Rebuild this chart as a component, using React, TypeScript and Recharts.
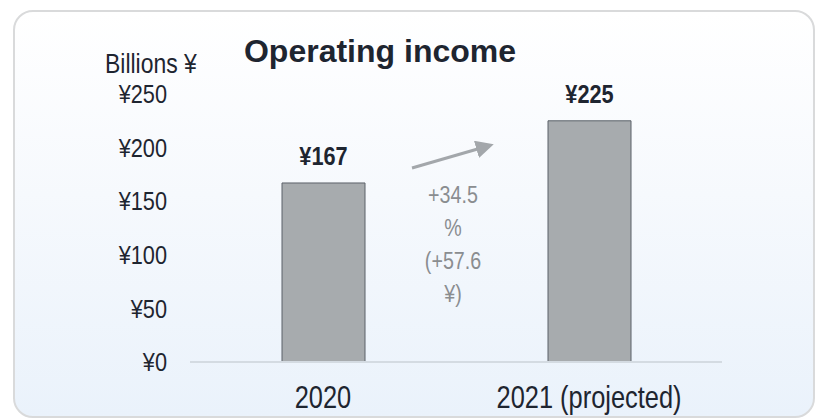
import { BarChart, Bar, XAxis, YAxis, LabelList } from 'recharts';

const years = ['2020', '2021 (projected)'];
const income = [167, 225];
const yTicks = [0, 50, 100, 150, 200, 250];
const growthLines = ['+34.5', '%', '(+57.6', '¥)'];

const data = years.map((year, i) => ({ year, income: income[i] }));

const sans = '"Liberation Sans", Arial, sans-serif';
const squeeze = 0.82; // narrow font is not installed, so squash Liberation Sans

// text drawn with a horizontal squeeze around its anchor point
const Narrow = ({ x, y, anchor = 'middle', size, weight = 'normal', fill = '#1e2530', children }) => (
    <text
        transform={`translate(${x},${y}) scale(${squeeze},1)`}
        textAnchor={anchor}
        dominantBaseline="central"
        fontFamily={sans}
        fontSize={size}
        fontWeight={weight}
        fill={fill}
    >{children}</text>
);

const YTick = ({ x, y, payload }) => (
    <Narrow x={x} y={y} anchor="end" size={26.5}>{`¥${payload.value}`}</Narrow>
);

const XTick = ({ x, y, payload }) => (
    <Narrow x={x} y={y + 35} size={31}>{payload.value}</Narrow>
);

const ValueLabel = ({ x, y, width, value }) => (
    <Narrow x={x + width / 2} y={y - 27} size={26.5} weight="bold">{`¥${value}`}</Narrow>
);

const App = () => {
    return (
        <div style={{ position: 'absolute', left: 0, top: 0, width: 823, height: 420, overflow: 'hidden', background: '#fff' }}>
            <div style={{
                position: 'absolute', left: 13, top: 10, width: 798, height: 404,
                border: '2px solid #d9dadb', borderRadius: 20,
                background: 'linear-gradient(#ffffff 0%, #f6f9fd 45%, #eaf2fb 100%)',
            }} />
            <div style={{ position: 'absolute', left: 0, top: 0 }}>
                <BarChart width={823} height={420} data={data} margin={{ top: 94, right: 101, bottom: 0, left: 0 }}>
                    <XAxis
                        dataKey="year"
                        height={58}
                        axisLine={{ stroke: '#d4dbe2', strokeWidth: 2 }}
                        tickLine={false}
                        tickSize={0}
                        tickMargin={0}
                        tick={<XTick />}
                    />
                    <YAxis
                        width={190}
                        domain={[0, 250]}
                        ticks={yTicks}
                        axisLine={false}
                        tickLine={false}
                        tickSize={0}
                        tickMargin={23}
                        tick={<YTick />}
                    />
                    <Bar dataKey="income" barSize={83} fill="#a7abae" stroke="#5b6168" strokeWidth={1} isAnimationActive={false}>
                        <LabelList dataKey="income" content={<ValueLabel />} />
                    </Bar>
                </BarChart>
            </div>
            <svg style={{ position: 'absolute', left: 0, top: 0 }} width={823} height={420}>
                <defs>
                    <marker id="arrowHead" markerWidth="6" markerHeight="6" refX="4" refY="3" orient="auto" markerUnits="strokeWidth">
                        <path d="M0,0 L6,3 L0,6 z" fill="#a3a7ab" />
                    </marker>
                </defs>
                <text x={380} y={62} textAnchor="middle" fontFamily={sans} fontSize={32} fontWeight="bold" fill="#1e2530">
                    Operating income
                </text>
                <Narrow x={105} y={63} anchor="start" size={28}>Billions ¥</Narrow>
                <line x1={412} y1={168} x2={488} y2={146} stroke="#a3a7ab" strokeWidth={3} markerEnd="url(#arrowHead)" />
                {growthLines.map((t, i) => (
                    <Narrow key={i} x={453} y={195 + i * 33} size={24} fill="#8a8d90">{t}</Narrow>
                ))}
            </svg>
        </div>
    );
};

export default App;
